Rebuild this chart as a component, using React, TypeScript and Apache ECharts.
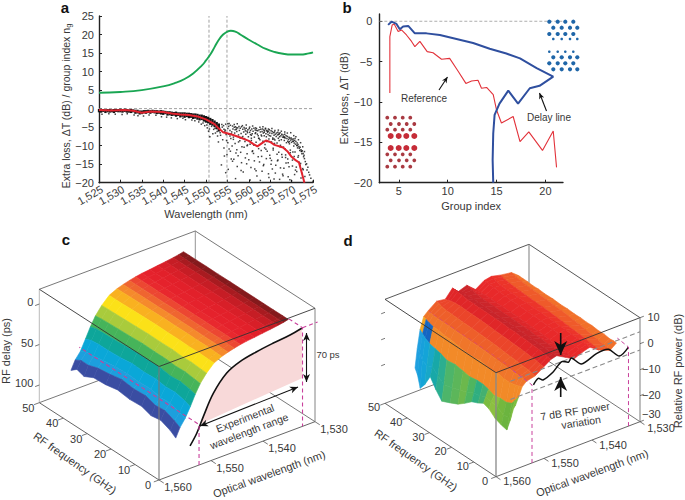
import React, { useEffect, useRef } from "react";
import * as echarts from "echarts";

// ---------- Panel a ----------
const groupWl = [1525,1530,1535,1540,1543,1545,1547,1549,1550,1551,1552,1553,1554,1555,1555.8,1557,1558,1560,1562,1564,1566,1568,1570,1572,1574,1575];
const groupIdx = [4.3,4.5,5,6,7,8,9.5,11.6,13,14.6,16.6,18.6,20,20.8,21,20.7,20,18.6,17.3,16.1,15.3,14.8,14.6,14.6,14.9,15.2];
const avgWl = [1525,1528,1531,1533,1535,1537,1540,1542,1544,1546,1548,1550,1552,1553,1554,1556,1558,1560,1561,1562,1563,1564,1565,1566,1568,1569,1570,1571,1571.7,1572.3,1573];
const avgLoss = [-0.4,-0.5,-0.4,-0.6,-1.1,-0.8,-0.9,-1.3,-1.6,-1.7,-2.1,-2.9,-4.2,-5.4,-6.4,-7,-7.8,-8.7,-9.5,-10.2,-9.4,-8.6,-9,-9.8,-10.5,-11.5,-13,-14,-14.5,-17,-20];
const bandWl = [1525,1525.5,1526,1526.5,1527,1527.5,1528,1528.5,1529,1529.5,1530,1530.5,1531,1531.5,1532,1532.5,1533,1533.5,1534,1534.5,1535,1535.5,1536,1536.5,1537,1537.5,1538,1538.5,1539,1539.5,1540,1540.5,1541,1541.5,1542,1542.5,1543,1543.5,1544,1544.5,1545,1545.5,1546,1546.5,1547,1547.5,1548,1548.5,1549,1549.5,1550,1550.5,1551,1551.5,1552,1552.5,1553];
const bandTop = [-0.1,-0.2,-0.1,-0.2,-0.1,-0.1,-0.2,-0.1,-0.1,-0.1,0,-0.1,0,-0.1,-0.2,-0.1,-0.2,-0.3,-0.3,-0.5,-0.5,-0.4,-0.4,-0.3,-0.4,-0.3,-0.4,-0.4,-0.5,-0.4,-0.5,-0.6,-0.7,-0.7,-0.8,-0.9,-0.8,-1,-1,-1,-1,-1.1,-1.1,-1.2,-1.3,-1.3,-1.4,-1.6,-1.6,-1.8,-2,-2.2,-2.5,-2.8,-3.2,-3.6,-4];
const bandBottom = [-1,-1.1,-0.9,-1.2,-1,-1.1,-1,-1.2,-0.9,-1,-1,-1.1,-0.9,-1.1,-1.1,-1.2,-1,-1.4,-1.3,-1.6,-1.5,-1.3,-1.4,-1.2,-1.4,-1.2,-1.3,-1.5,-1.4,-1.6,-1.7,-1.5,-1.9,-1.8,-2,-1.9,-2.2,-2,-2.4,-2.2,-2.5,-2.3,-2.6,-2.5,-2.8,-2.7,-3,-3.2,-3.1,-3.5,-3.8,-4,-4.4,-4.6,-5,-5.6,-6.2];
const strayWl = [
  1525.7,1527.3,1528.8,1530.4,1531.6,1533.2,1534.1,1535.4,1536.7,1538.3,1539.6,1540.8,1541.9,1543.3,1544.6,1545.2,1546.7,1547.4,1548.3,1548.9,1549.3,1549.7,1550.2,1550.3,1550.6,1550.8,1550.9,1551.3,1551.6,1551.8,
  1552.1,1552.2,1552.6,1552.7,1552.9,1553.1,1553.2,1553.3,1553.4,1553.7,1553.8,1553.9,1554.1,1554.2,1554.2,1554.4,1554.6,1554.7,1554.8,1554.9,1555.1,1555.1,1555.3,1555.3,1555.6,1555.7,1555.8,1555.9,1556,1556.2,
  1556.3,1556.4,1556.6,1556.7,1556.8,1556.9,1557.1,1557.2,1557.2,1557.4,1557.6,1557.7,1557.8,1557.9,1558,1558.2,1558.3,1558.4,1558.6,1558.6,1558.8,1558.9,1559.1,1559.1,1559.3,1559.4,1559.6,1559.6,1559.8,1559.9,
  1560.1,1560.2,1560.3,1560.4,1560.6,1560.7,1560.8,1560.9,1561,1561.2,1561.3,1561.3,1561.5,1561.6,1561.7,1561.8,1562,1562.1,1562.2,1562.3,1562.4,1562.6,1562.7,1562.8,1562.9,1563,1563.1,1563.2,1563.3,1563.4,
  1563.5,1563.6,1563.7,1563.8,1563.9,1564,1564.1,1564.2,1564.3,1564.4,1564.5,1564.6,1564.7,1564.8,1564.9,1565,1565.1,1565.2,1565.3,1565.4,1565.5,1565.6,1565.7,1565.8,1565.9,1566,1566.1,1566.2,1566.3,1566.4,
  1566.5,1566.6,1566.7,1566.8,1566.9,1567,1567.1,1567.2,1567.3,1567.4,1567.5,1567.6,1567.7,1567.8,1567.9,1568,1568.1,1568.2,1568.3,1568.4,1568.5,1568.6,1568.7,1568.8,1568.9,1569,1569.1,1569.2,1569.3,1569.4,
  1569.5,1569.6,1569.7,1569.8,1569.9,1570,1570.1,1570.2,1570.3,1570.4,1570.5,1570.6,1570.7,1570.8,1570.9,1571,1571.1,1571.2,1571.3,1571.4,1571.5,1571.6,1571.7,1571.8,1571.9,1572,1572.1,1572.2,1572.3,1572.4,
  1572.5,1572.6,1572.7,1572.8,1572.9,1573,1573.2,1573.3,1573.5,1573.6,1573.8,1574,1574.2,1574.5,1575,
  1553.6,1554.3,1555.2,1556.1,1556.5,1557.3,1558.1,1558.7,1559.2,1559.7,1560.5,1561.1,1561.9,1562.5,1563.1,1563.7,1564.1,1564.7,1565.2,1565.7,1566.2,1566.8,1567.2,1567.7,1568.2,1568.7,1569.2,1569.7,1570.2,1570.7,
  1554.6,1555.4,1556.2,1556.9,1557.5,1558.2,1558.9,1559.5,1560.3,1560.8,1561.4,1562.2,1562.7,1563.4,1564,1564.6,1565.3,1565.9,1566.6,1567.4,1568,1568.6,1569.4,1570,1570.6,1571.2,1571.8,1572.2,1572.7,1573.1,
  1555.1,1555.7,1556.4,1557,1557.6,1558.3,1559,1559.6,1560,1560.6,1561.2,1561.7,1562.3,1562.9,1563.5,1564.2,1564.9,1565.5,1566,1566.7,1567.3,1567.9,1568.5,1569.1,1569.6,1570.3,1570.9,1571.5,1572,1572.5,
  1555.4,1556.6,1557.3,1558.5,1559.4,1560.2,1560.9,1561.6,1562.6,1563.3,1563.9,1564.6,1565.4,1566.1,1566.9,1567.6,1568.4,1569,1569.8,1570.5,1571,1571.6,1572.1,1572.6,1573,
  1554.5,1555.9,1557.1,1558.4,1559.7,1560.6,1561.8,1563,1564.3,1565.6,1567,1568.3,1569.5,1570.8,1572.3,
  1555.6,1556.8,1558,1559.2,1560.4,1561.5,1562.4,1563.6,1564.8,1565.9,1567.1,1568.2,1569.3,1570.4,1571.3,
];
const strayLoss = [
  -1.5,-1.4,-1.5,-1.6,-1.4,-1.7,-1.9,-2,-1.7,-1.8,-2.2,-2.3,-2.5,-2.7,-2.6,-3,-3.1,-3.3,-3.6,-4.2,-3.9,-4.6,-4.4,-5.2,-6.1,-5.5,-7.6,-4.8,-6.8,-5.6,
  -5.3,-6.6,-6.2,-7.4,-9,-4.4,-5.3,-6.5,-7.2,-4.3,-5,-8.4,-4.6,-5.6,-10.6,-6.1,-4.2,-7,-8.6,-12.4,-4.1,-5.4,-4.8,-6.9,-5.9,-4.5,-8.1,-13.6,-6.3,-4.7,
  -5.5,-7.7,-5,-6.6,-9.4,-4.9,-5.6,-6.2,-11.1,-5.2,-7.1,-4.8,-5.9,-8.7,-5.3,-6.7,-4.9,-10.3,-5.6,-7.5,-6.3,-5.1,-5.5,-8.9,-6.9,-5.3,-6.1,-12.2,-5.7,-7.6,
  -5.4,-6.4,-9.6,-5.9,-7.2,-5.5,-6.8,-11.4,-6.1,-5.3,-7.7,-14.1,-5.8,-6.5,-9.1,-5.4,-6.9,-6,-7.3,-10.8,-5.7,-8.4,-6.3,-5.6,-7.1,-12.9,-6.2,-5.5,-8.8,-6.6,
  -5.8,-7.3,-6,-9.7,-5.5,-6.8,-7.6,-5.9,-11.5,-6.4,-7,-6.1,-8.2,-5.7,-6.6,-13.4,-7.4,-6,-9,-6.7,-6.2,-7.9,-10.7,-6.5,-7.2,-6.3,-8.5,-6.9,-15.3,-7.5,
  -6.6,-9.3,-7.1,-6.4,-8,-11.8,-6.8,-7.6,-6.5,-9.9,-7.3,-8.4,-6.9,-13.1,-7.7,-7.1,-10.4,-7.5,-8.6,-6.9,-7.9,-12.5,-7.3,-9.2,-8.1,-7.5,-8.8,-14.6,-8.3,-7.7,
  -9.5,-8,-11.2,-8.5,-7.9,-9.1,-8.3,-13.9,-8.8,-8.2,-10.1,-9.3,-8.6,-11.7,-9.6,-8.9,-15.8,-9.9,-9.3,-10.6,-9.7,-12.7,-10.2,-10.7,-11.3,-10.4,-14.8,-11.1,-11.6,-12.2,
  -11.4,-16.2,-12.1,-13,-12.6,-13.5,-14.3,-15.1,-14.9,-16.6,-15.8,-17.2,-17.9,-18.8,-19.6,
  -15.2,-12.8,-16.4,-10.1,-13.7,-15.6,-11.8,-17.1,-13.3,-9.8,-15.9,-12.1,-18.2,-14.4,-16.9,-10.6,-13.5,-18.6,-15,-11.2,-17.4,-13.9,-19.1,-12.4,-16.1,-14.7,-18.4,-11.9,-15.5,-17.8,
  -17.3,-10.9,-14.2,-18.9,-12.7,-16.7,-10.4,-14.9,-19.3,-11.6,-16.3,-13,-19.4,-15.4,-11,-17.6,-14,-19,-12.3,-16,-18.1,-13.2,-15.7,-19.5,-12.9,-17,-14.5,-18.7,-16.5,-18.3,
  -9.2,-11.5,-8.3,-12,-9,-14.6,-8.1,-10,-13.8,-8.6,-9.9,-16.8,-8,-11.3,-15.1,-8.9,-12.6,-16.3,-9.4,-14.1,-10.3,-17.7,-10.9,-13.6,-19.2,-11.7,-16.6,-13.1,-15.3,-17.5,
  -4,-4.3,-4.1,-4.6,-4.4,-5,-4.7,-5.2,-5,-4.9,-5.3,-5.5,-5.4,-5.9,-5.8,-6.1,-6.3,-6.6,-6.5,-7.3,-7.6,-8.4,-9.2,-10.3,-11.6,
  -5.8,-6.8,-5.2,-7.8,-6.5,-8,-5.9,-7.4,-6.1,-8.3,-7,-7.8,-8.9,-8.1,-11.5,
  -7.4,-5.7,-7.9,-6,-7,-6.7,-8.1,-6.4,-7.3,-8.2,-8.6,-7.7,-9.1,-8.8,-10,
];
const xTicksA = [1525,1530,1535,1540,1545,1550,1555,1560,1565,1570,1575];
const markerWl = [1550.7, 1554.9];

// ---------- Panel b ----------
const delayGroup = [3.9,4.25,4.76,5.1,5.44,5.96,6.64,7.83,9.2,10.9,12.6,14.3,16,17.4,19.1,20.8,19.4,18.4,17.2,16.2,15.3,14.8,14.66,14.6,14.66];
const delayLoss = [-0.45,-0.05,-0.33,-1,-0.66,-0.58,-1.5,-1.5,-1.7,-2.2,-2.7,-3.4,-4,-4.6,-5.8,-6.86,-8,-8.3,-10.2,-8.6,-10.2,-11.6,-13.9,-17.2,-20];
const refGroup = [4.08,4.08,4.32,4.52,4.93,5.27,5.78,6.3,6.64,7.15,7.9,8.5,9.37,10.2,11.07,11.86,12.44,13.1,13.46,13.98,14.66,15,15.5,16.7,17.4,18.3,19.7,20.8,21.14];
const refLoss = [-8.9,-1.9,-0.45,-0.33,-1.28,-1.07,-1.7,-2.5,-3.14,-2.5,-3.76,-3.9,-4.7,-4.6,-6.2,-7.7,-7.4,-7.3,-8.3,-8.2,-9.1,-11,-12.6,-11.8,-14.9,-13.7,-16,-13.6,-18.1];
const xTicksB = [5,10,15,20];
const yTicksB = [-20,-15,-10,-5,0];

// ---------- Panel c ----------
const wlC = [1554.15,1553.34,1552.35,1551.36,1550.4,1549.44,1548.24,1546.8,1545.3,1544.1,1542.9,1541.7,1540.5,1539,1537.5,1536,1534.5,1533.45,1532.5];
const freqC = [5.7,8,12,16,20,25,30,35,40,44,47,49.5];
const delayC = [
  [95,84,75,63,50,39,29,20,15.5,13,11,9.3,8,6.9,5.6,4.4,3,1.9,0.4],
  [90,80,72,60,48,38,28.5,19.8,15.3,12.8,10.9,9.3,7.9,6.9,5.6,4.4,3,1.9,0.4],
  [85,75,68,57,46,36.5,27.5,19.2,14.7,12.5,10.6,9.1,7.8,6.8,5.5,4.3,3,1.8,0.5],
  [87,76,69,58,47,37,28,19.5,14.8,12.6,10.6,9.2,7.9,6.7,5.5,4.3,2.9,1.8,0.5],
  [83,72,66,56,45,36,27,19,14.5,12.3,10.5,9.1,7.8,6.7,5.5,4.3,3,1.7,0.5],
  [84,73,67,57,45.5,36,27.3,19,14.6,12.4,10.6,9.1,7.9,6.8,5.5,4.4,3,1.8,0.4],
  [82,71,66,56,45,35.5,27,18.8,14.5,12.3,10.5,9,7.8,6.7,5.4,4.3,2.9,1.7,0.4],
  [85,74,67,58,46,36.5,27.6,19.2,14.7,12.5,10.7,9.2,7.9,6.8,5.5,4.4,3,1.8,0.5],
  [86,76,69,59,47,37,28,19.5,15,12.7,10.7,9.3,8,6.9,5.6,4.4,3,1.9,0.4],
  [92,80,71,59,47.5,37.5,28.4,19.8,15.1,12.8,10.9,9.3,8,6.9,5.6,4.5,3.1,1.9,0.4],
  [89,80,72,60,48,38,28.6,20,15.3,12.9,10.9,9.4,8.1,7,5.7,4.4,3,1.9,0.4],
  [95,84,76,63,50,39,29,20,15.5,13,11,9.3,8,6.9,5.6,4.4,3,1.9,0.4],
];
const fiberWlC = [1554.03,1552.74,1551.48,1549.56,1546.98,1544.43,1541.22,1538.01,1534.8,1532.55];
const fiberDelayC = [94,81.5,64,40,21,13,8.5,5.5,3.2,0.4];
const wlTicks = [1560,1550,1540,1530];
const freqTicks = [0,10,20,30,40,50];
const delayTicks = [0,50,100];

// ---------- Panel d ----------
const wlD = [1555.2,1554.75,1554.15,1553.4,1552.5,1550.7,1548.9,1547.4,1546.2,1544.4,1542.6,1540.8,1539.3,1537.5,1535.1,1533.75];
const freqD = [2.5,4,5.5,8,10.8,13.5,16,18.5,21.3,24.5,27.5,31,34.8,37.5,40,42.5,44.5,45.75,46.85];
const powerD = [
  [-8.7,-7.5,-5,-1.5,0,0.8,3,4.8,5.4,3.5,1.6,3,3.8,1.5,-0.4,1.5],
  [-14,-10,-7,-2,0.3,1,3.2,5,5.5,3.8,1.8,3.2,4,1.8,-0.2,1.6],
  [-18.5,-14,-9,-2.5,0.2,1.4,3.5,5.2,5.2,4,2.2,3.4,3.9,2,0.2,1.4],
  [-18,-14.5,-10,-3,0.4,1.5,3.7,5.6,5.4,4.3,2.4,3.6,4.2,2.4,0.6,1.8],
  [-17,-13,-10,-3,0.5,1.8,3.9,5.7,5.5,4.2,2.6,3.8,4.1,2.6,1,1.7],
  [-15,-12.5,-10.5,-2.5,0.6,2,4.1,6,5.6,4.5,2.8,4,4.4,2.8,1.4,2],
  [-14.2,-12,-9.5,-3,0.8,2.2,4.2,5.9,5.7,4.4,3,4.1,4.3,3,1.8,1.9],
  [-15.5,-13,-9,-2.5,0.9,2.4,4.4,6.2,5.8,4.7,3.1,4.3,4.6,3.2,2,2.1],
  [-16.6,-13.5,-9,-2,1,2.6,4.5,6.1,5.9,4.6,3.2,4.4,4.5,3.4,2.3,2],
  [-19,-15,-9.5,-2.5,1.1,2.8,4.6,6.4,5.8,4.8,3.3,4.5,4.7,3.6,2.6,2.2],
  [-21,-16,-9,-2.5,1.2,2.9,4.8,6.3,5.9,4.9,3.4,4.6,4.7,3.8,2.8,2.1],
  [-22.5,-17,-8.5,-2,1.3,3,4.9,6.5,6,4.8,3.5,4.7,4.8,3.9,3,2.3],
  [-24,-18,-9,-1.5,1.4,3.1,5,6.4,6,5,3.5,4.8,4.8,4,3.2,2.2],
  [-21,-16,-8,-1.5,1.5,3.2,5,6.6,6.1,4.9,3.6,4.9,4.9,4.2,3.3,2.4],
  [-17.5,-14,-7.5,-1,1.5,3.3,5.1,6.5,6,5,3.6,5,4.8,4.3,3.4,2.3],
  [-22,-15,-7,-1,1.6,3.4,5,6.9,5.8,5.3,3.5,5.2,4.9,4.5,3.7,2.5],
  [-24.5,-14,-6,-0.5,1.7,3.7,4.6,7,5.6,5.6,3.4,5.4,5.4,4.8,3.9,2.5],
  [-20,-12,-5,0,1.8,4.2,4.2,7.2,5.2,6,3.3,5.5,5.8,5,4.2,2.5],
  [-18,-11,-4,0.5,2,4.5,4,7.2,5,6.2,3.3,5.5,6,5.2,4.5,2.5],
];
const traceWlD = [1552.2,1551.2,1550.2,1548.1,1546.3,1544.9,1544.3,1542.2,1539,1536.6,1534.3,1532.4];
const tracePowerD = [-0.2,1.6,0.3,1.9,4.6,3.4,4.6,0.8,2.6,2.5,-1.7,0.4];
const powerTicks = [10,0,-10,-20,-30];

// ---------- Colours ----------
const bandsC = ["#3a4da2","#1d9fdd","#0aa7d8","#0ea69a","#46b45a","#a9cb3c","#fbe118","#f9b120","#f58a2c","#ef6530","#ec4732","#e8282e","#e5222c","#e2202a","#d81f28","#c61d25","#a81b20","#841a1c"];
const wallUpperD = ["#f28a28","#f0762a","#ee5f2a","#eb452a"];
const plateauD = ["#e02628","#c8242a","#cc252a","#de272a","#e8292a","#ea2c2a","#ec342a","#ef5a2a","#f1702a"];
const wallLowD = ["#7cbc3c","#6cb53e","#6bb43f","#74b83e","#8cc040","#7cbc40","#44b070","#2fae80","#4fb55f","#6cb84c","#5cb65a","#4db56a","#2cae90","#18a8a8","#18a8c8","#14a4d8","#18a0dc","#20a0e0","#28a4e0"];
const INK = "#383838";
const PINK = "#c9409c";
const FONT = '"Liberation Sans", Arial, sans-serif';

// ---------- Projections of the two boxes ----------
const projC = (w: number, f: number, delay: number): number[] => {
  const u = (1560 - w) / 30, v = f / 50, h = 0.871 - delay * 0.00715;
  return [159 + 156 * u - 119.7 * v, 480 - 58.3 * u - 77.3 * v - 113.3 * h];
};
const projD = (w: number, f: number, db: number): number[] => {
  const u = (1560 - w) / 30, v = f / 50, h = (db + 30) / 40;
  return [496 + 144 * u - 111 * v, 476.7 - 55 * u - 73.4 * v - 104 * h];
};

type Stroke = { pts: number[][]; stroke?: string; width?: number; dash?: number[]; fill?: string; smooth?: number; opacity?: number };

function strokes3d(items: Stroke[], proj: (a: number, b: number, c: number) => number[], z: number) {
  return {
    type: "custom", coordinateSystem: "none", silent: true, z, clip: false,
    data: items.map((_, i) => [i]),
    renderItem: (params: any) => {
      const it = items[params.dataIndex];
      const points = it.pts.map((p) => proj(p[0], p[1], p[2]));
      if (it.fill) return { type: "polygon", shape: { points }, style: { fill: it.fill, stroke: "none" } };
      return { type: "polyline", shape: { points, smooth: it.smooth || 0 }, style: { fill: "none", stroke: it.stroke || "#444", lineWidth: it.width || 0.8, lineDash: it.dash, opacity: it.opacity ?? 1 } };
    },
  };
}

function surface(wl: number[], fr: number[], grid: number[][], proj: (a: number, b: number, c: number) => number[], colour: (i: number, j: number) => string, z: number) {
  const cells: number[][] = [];
  for (let i = wl.length - 2; i >= 0; i--) for (let j = fr.length - 2; j >= 0; j--) cells.push([i, j]);
  return {
    type: "custom", coordinateSystem: "none", silent: true, z, clip: false,
    data: cells,
    renderItem: (params: any) => {
      const [i, j] = cells[params.dataIndex];
      const points = [
        proj(wl[i], fr[j], grid[j][i]), proj(wl[i + 1], fr[j], grid[j][i + 1]),
        proj(wl[i + 1], fr[j + 1], grid[j + 1][i + 1]), proj(wl[i], fr[j + 1], grid[j + 1][i]),
      ];
      const c = colour(i, j);
      return { type: "polygon", shape: { points }, style: { fill: c, stroke: c, lineWidth: 0.6 } };
    },
  };
}

function txt(x: number, y: number, text: string, size = 11, deg = 0, extra: any = {}) {
  return {
    type: "text", x, y, rotation: (deg * Math.PI) / 180, silent: true,
    style: { text, font: `${extra.weight || "normal"} ${size}px ${FONT}`, fill: extra.fill || INK, align: extra.align || "center", verticalAlign: "middle" },
  };
}
function head(x: number, y: number, dx: number, dy: number, len: number, half: number) {
  const l = Math.hypot(dx, dy), ax = dx / l, ay = dy / l;
  const bx = x - ax * len, by = y - ay * len, nx = -ay * half, ny = ax * half;
  const mx = x - ax * len * 0.72, my = y - ay * len * 0.72;
  return { type: "polygon", silent: true, shape: { points: [[x, y], [bx + nx, by + ny], [mx, my], [bx - nx, by - ny]] }, style: { fill: "#111" } };
}
function arrow(x1: number, y1: number, x2: number, y2: number, both = false, len = 7, half = 3, width = 1.1) {
  const out: any[] = [
    { type: "line", silent: true, shape: { x1, y1, x2, y2 }, style: { stroke: "#111", lineWidth: width } },
    head(x2, y2, x2 - x1, y2 - y1, len, half),
  ];
  if (both) out.push(head(x1, y1, x1 - x2, y1 - y2, len, half));
  return out;
}
function dotRows(rows: { y: number; xs: number[]; r: number; c: string }[]) {
  const out: any[] = [];
  rows.forEach((row) => row.xs.forEach((x) => out.push({ type: "circle", silent: true, shape: { cx: x, cy: row.y, r: row.r }, style: { fill: row.c } })));
  return out;
}

const axisBase = {
  axisLine: { show: true, onZero: false, lineStyle: { color: "#222", width: 1.4 } },
  axisTick: { show: true, inside: true, length: 3, lineStyle: { color: "#222", width: 1 } },
  splitLine: { show: false },
};
const minus = (v: number) => String(v).replace("-", "\u2212");
const thousands = (v: number) => `${Math.floor(v / 1000)},${String(v % 1000).padStart(3, "0")}`;

export default function App() {
  const ref = useRef<HTMLDivElement>(null);
  useEffect(() => {
    document.body.style.margin = "0";
    const chart = echarts.init(ref.current!, undefined, { renderer: "svg" });

    // box c
    const W0 = 1560, W1 = 1530, ZTC = -18.2, ZBC = 121.8;
    const fiberC = fiberWlC.map((w, i) => [w, 0, fiberDelayC[i]]);
    const backC: Stroke[] = [
      { pts: [[W0, 50, ZTC], [W1, 50, ZTC], [W1, 0, ZTC]], stroke: "#555" },
      { pts: [[W0, 50, ZBC], [W1, 50, ZBC], [W1, 0, ZBC]], stroke: "#555" },
      { pts: [[W1, 50, ZTC], [W1, 50, ZBC]], stroke: "#777" },
      { pts: [[W0, 50, ZTC], [W0, 50, ZBC]], stroke: "#bbb", width: 1 },
    ];
    const midC: Stroke[] = [
      { pts: [...fiberC.slice(1), [1532.4, 0, 62], [1552.3, 0, 71.8]], fill: "#f8d9d9" },
    ];
    const frontC: Stroke[] = [
      { pts: [[W0, 50, ZTC], [W0, 0, ZTC], [W1, 0, ZTC]], stroke: "#333", width: 0.9 },
      { pts: [[W0, 50, ZBC], [W0, 0, ZBC], [W1, 0, ZBC]], stroke: "#555", width: 0.9 },
      { pts: [[W0, 0, ZTC], [W0, 0, ZBC]], stroke: "#777", width: 1.1 },
      { pts: [[W1, 0, ZTC], [W1, 0, ZBC]], stroke: "#777", width: 0.9 },
      { pts: fiberC, stroke: "#111", width: 1.6, smooth: 0.35 },
      { pts: [[1552.3, 0, 121.8], [1552.3, 0, 71.8], [1552.3, 50, 71.8]], stroke: PINK, width: 1.1, dash: [4, 3] },
      { pts: [[1532.4, 5.7, 0], [1532.4, 0, 0], [1532.4, 0, 121.8]], stroke: PINK, width: 1.1, dash: [4, 3] },
      { pts: [[1532.4, 0, 0], [1529.5, 0, 0]], stroke: PINK, width: 1.1, dash: [4, 3] },
      ...wlTicks.map((w) => ({ pts: [[w, 0, ZBC], [w, -2, ZBC]], stroke: "#555" })),
      ...freqTicks.map((f) => ({ pts: [[W0, f, ZBC], [W0 + 1, f, ZBC]], stroke: "#555" })),
      ...delayTicks.map((d) => ({ pts: [[W0, 50, d], [W0 + 0.8, 50, d]], stroke: "#555" })),
    ];

    // box d
    const ZTD = 10, ZBD = -30;
    const backD: Stroke[] = [
      { pts: [[W0, 50, ZTD], [W1, 50, ZTD], [W1, 0, ZTD]], stroke: "#444", width: 0.9 },
      { pts: [[W0, 50, ZBD], [W1, 50, ZBD], [W1, 0, ZBD]], stroke: "#555" },
      { pts: [[W1, 50, ZTD], [W1, 50, ZBD]], stroke: "#888", width: 1.1 },
    ];
    const frontD: Stroke[] = [
      { pts: [[W0, 50, ZTD], [W0, 0, ZTD], [W1, 0, ZTD]], stroke: "#333", width: 0.9 },
      { pts: [[W0, 50, ZBD], [W0, 0, ZBD], [W1, 0, ZBD]], stroke: "#555", width: 0.9 },
      { pts: [[W0, 0, ZTD], [W0, 0, ZBD]], stroke: "#888", width: 1.3 },
      { pts: [[W1, 0, ZTD], [W1, 0, ZBD]], stroke: "#888", width: 1.1 },
      { pts: [[1557, 0, 4.6], [W1, 0, 4.6]], stroke: "#8a8a8a", width: 1.1, dash: [5, 3] },
      { pts: [[1557, 0, -2.4], [W1, 0, -2.4]], stroke: "#8a8a8a", width: 1.1, dash: [5, 3] },
      { pts: traceWlD.map((w, i) => [w, 0, tracePowerD[i]]), stroke: "#111", width: 1.5, smooth: 0.3 },
      { pts: [[1552.5, 0, -30], [1552.5, 0, 0], [1552.5, 9, 0.8]], stroke: PINK, width: 1, dash: [4, 3] },
      { pts: [[1552.5, 9, 1.5], [1552.5, 46.5, 2]], stroke: PINK, width: 0.8, dash: [4, 3], opacity: 0.55 },
      { pts: [[1532.4, 0, -30], [1532.4, 0, 0.4], [1532.4, 5, 1]], stroke: PINK, width: 1, dash: [4, 3] },
      ...wlTicks.map((w) => ({ pts: [[w, 0, ZBD], [w, -2, ZBD]], stroke: "#555" })),
      ...freqTicks.map((f) => ({ pts: [[W0, f, ZBD], [W0 + 1, f, ZBD]], stroke: "#555" })),
      ...powerTicks.map((p) => ({ pts: [[W1, 0, p], [W1 - 0.8, 0, p]], stroke: "#555" })),
      ...[5, -5, -15].map((p) => ({ pts: [[W0, 50, p], [W0 + 0.8, 50, p]], stroke: "#555" })),
    ];

    const colourD = (i: number, j: number) => {
      if (i <= 1) return wallLowD[j];
      if (i === 2 && (j === 15 || j === 16)) return "#1566c2";
      if (i === 2 && j >= 17) return "#f5a623";
      if (i <= 5) return wallUpperD[i - 2];
      return plateauD[Math.min(i - 6, plateauD.length - 1)];
    };

    const labelsC: any[] = [
      ...freqTicks.map((f) => { const p = projC(W0, f, ZBC); return txt(p[0] - 11, p[1] + 5, String(f)); }),
      ...wlTicks.map((w) => { const p = projC(w, 0, ZBC); return txt(p[0] + 19, p[1] + 7, thousands(w)); }),
      ...delayTicks.map((d) => { const p = projC(W0, 50, d); return txt(p[0] - 6, p[1] - 2, String(d), 11, 0, { align: "right" }); }),
      txt(6, 351, "RF delay (ps)", 11, 90),
      txt(75, 463, "RF frequency (GHz)", 11, -35),
      txt(269, 474, "Optical wavelength (nm)", 11, 20),
      txt(245, 418, "Experimental", 10.5, 21),
      txt(249, 431, "wavelength range", 10.5, 21),
      txt(328, 354, "70 ps", 9.5),
      ...arrow(306.5, 333, 306.5, 382, true, 8, 3.5),
      ...arrow(200, 426, 298, 387, true, 8, 3.5),
    ];
    const labelsD: any[] = [
      ...freqTicks.map((f) => { const p = projD(W0, f, ZBD); return txt(p[0] - 11, p[1] + 4, String(f)); }),
      ...wlTicks.map((w) => { const p = projD(w, 0, ZBD); return txt(p[0] + 21, p[1] + (w === 1530 ? 6 : 4.5), thousands(w)); }),
      ...powerTicks.map((v) => { const p = projD(W1, 0, v); return txt(v < 0 ? 642 : 647.5, p[1] - (v === -30 ? 7.5 : 1), minus(v), 11, 0, { align: "left" }); }),
      txt(678, 371, "Relative RF power (dB)", 11, 90),
      txt(416, 460, "RF frequency (GHz)", 11, -35),
      txt(592, 473, "Optical wavelength (nm)", 11, 20),
      txt(575, 411, "7 dB RF power", 10.5, 9),
      txt(581, 422, "variation", 10.5, 9),
      ...arrow(560.7, 333, 560.7, 355, false, 14, 6.5, 1.6),
      ...arrow(560.7, 397, 560.7, 377, false, 14, 6.5, 1.6),
    ];
    const dotsRed = [
      { y: 117.7, xs: [387.3, 395, 402.7, 410.3], r: 1.9, c: "#a93a42" },
      { y: 124, xs: [390.7, 399, 406.7, 414.3], r: 1.9, c: "#a93a42" },
      { y: 129.7, xs: [387.3, 395, 402.7, 410.3], r: 1.9, c: "#a93a42" },
      { y: 136, xs: [390.7, 398.7, 406.3, 414.3], r: 3, c: "#c62c38" },
      { y: 148, xs: [390.7, 398.7, 406.3, 414.3], r: 3, c: "#c62c38" },
      { y: 154.3, xs: [387.3, 395, 402.7, 410.3], r: 1.9, c: "#a93a42" },
      { y: 160.3, xs: [390.7, 399, 406.7, 414.3], r: 1.9, c: "#a93a42" },
      { y: 166.7, xs: [387.3, 395, 402.7, 410.3], r: 1.9, c: "#a93a42" },
    ];
    const dotsBlue = [
      { y: 21.7, xs: [549.3, 557.7, 565.3, 573.3], r: 2.1, c: "#1f66a8" },
      { y: 27.7, xs: [553.3, 561.7, 570, 577.3], r: 2.1, c: "#1f66a8" },
      { y: 34, xs: [549.3, 557.7, 565.3, 573.3], r: 2.1, c: "#1f66a8" },
      { y: 39, xs: [553.3, 561.7, 570, 577.3], r: 1.3, c: "#1f66a8" },
      { y: 51.7, xs: [549.3, 557.7, 565.3, 573.3], r: 1.3, c: "#1f66a8" },
      { y: 57.3, xs: [553.3, 561.7, 570, 577.3], r: 2.1, c: "#1f66a8" },
      { y: 63.3, xs: [549.3, 557.7, 565.3, 573.3], r: 2.1, c: "#1f66a8" },
      { y: 69.3, xs: [553.3, 561.7, 570, 577.3], r: 2.1, c: "#1f66a8" },
    ];

    const overlay: any[] = [
      txt(65, 7, "a", 15, 0, { weight: "bold", fill: "#111" }),
      txt(347, 7, "b", 15, 0, { weight: "bold", fill: "#111" }),
      txt(66, 239, "c", 15, 0, { weight: "bold", fill: "#111" }),
      txt(348, 240, "d", 15, 0, { weight: "bold", fill: "#111" }),
      {
        type: "text", x: 66, y: 106, rotation: Math.PI / 2, silent: true,
        style: {
          text: "{m|Extra loss, \u0394T (dB) / group index n}{s|g}", align: "center", verticalAlign: "middle",
          rich: { m: { fontSize: 10.5, fontFamily: FONT, fill: INK }, s: { fontSize: 7.5, fontFamily: FONT, fill: INK, verticalAlign: "bottom", padding: [4, 0, 0, 0] } },
        },
      },
      txt(424, 98, "Reference", 10),
      txt(549, 117, "Delay line", 10),
      ...arrow(439, 90, 447.5, 77, false, 6, 2.7),
      ...arrow(546.5, 111, 539.5, 93, false, 6, 2.7),
      ...dotRows(dotsRed),
      ...dotRows(dotsBlue),
      ...labelsC,
      ...labelsD,
    ];

    chart.setOption({
      animation: false,
      backgroundColor: "#fff",
      textStyle: { fontFamily: FONT, color: INK },
      grid: [
        { left: 99, top: 16, width: 214, height: 166.7 },
        { left: 379.3, top: 14, width: 183.7, height: 168.7 },
      ],
      xAxis: [
        {
          ...axisBase, gridIndex: 0, type: "value", min: 1525, max: 1575, interval: 5,
          axisLabel: { show: false },
          name: "Wavelength (nm)", nameLocation: "middle", nameGap: 26, nameTextStyle: { fontSize: 11, color: INK, fontFamily: FONT },
        },
        {
          ...axisBase, gridIndex: 1, type: "value", min: 3, max: 21.8,
          axisTick: { ...axisBase.axisTick, customValues: xTicksB },
          axisLabel: { fontSize: 11, color: INK, margin: 3, fontFamily: FONT, customValues: xTicksB },
          name: "Group index", nameLocation: "middle", nameGap: 18, nameTextStyle: { fontSize: 11, color: INK, fontFamily: FONT },
        },
      ],
      yAxis: [
        {
          ...axisBase, gridIndex: 0, type: "value", min: -20, max: 25, interval: 5,
          axisLabel: { fontSize: 11, color: INK, margin: 5, fontFamily: FONT, formatter: (v: number) => minus(v) },
        },
        {
          ...axisBase, gridIndex: 1, type: "value", min: -20, max: 0.9,
          axisTick: { ...axisBase.axisTick, customValues: yTicksB },
          axisLabel: { fontSize: 11, color: INK, margin: 7, fontFamily: FONT, formatter: (v: number) => minus(v), customValues: yTicksB },
          name: "Extra loss, \u0394T (dB)", nameLocation: "middle", nameGap: 25, nameTextStyle: { fontSize: 11, color: INK, fontFamily: FONT },
        },
      ],
      series: [
        // panel a
        { type: "line", xAxisIndex: 0, yAxisIndex: 0, data: [[1525, 0], [1575, 0]], symbol: "none", z: 1, lineStyle: { color: "#888", width: 0.8, type: [3, 2] } },
        ...markerWl.map((w) => ({ type: "line", xAxisIndex: 0, yAxisIndex: 0, data: [[w, -20], [w, 25]], symbol: "none", z: 1, lineStyle: { color: "#888", width: 0.8, type: [3, 2] } })),
        {
          type: "custom", xAxisIndex: 0, yAxisIndex: 0, z: 3, silent: true, clip: false,
          data: xTicksA.map((w) => [w, -20]),
          renderItem: (_: any, api: any) => {
            const a = api.coord([api.value(0), api.value(1)]);
            return {
              type: "text", x: a[0] + 3, y: a[1] + 5.5, rotation: Math.PI / 6,
              style: { text: thousands(api.value(0)), font: `11px ${FONT}`, fill: INK, align: "right", verticalAlign: "middle" },
            };
          },
        },
        { type: "scatter", xAxisIndex: 0, yAxisIndex: 0, data: strayWl.map((w, i) => [w, strayLoss[i]]), symbol: "rect", symbolSize: 1.5, z: 2, itemStyle: { color: "#111" }, clip: true },
        {
          type: "custom", xAxisIndex: 0, yAxisIndex: 0, z: 2, silent: true,
          data: bandWl.map((w, i) => [w, bandTop[i], bandBottom[i]]),
          encode: { x: 0, y: [1, 2] },
          renderItem: (_: any, api: any) => {
            const a = api.coord([api.value(0), api.value(1)]), b = api.coord([api.value(0), api.value(2)]);
            return { type: "line", shape: { x1: a[0], y1: a[1], x2: b[0], y2: b[1] }, style: { stroke: "#151515", lineWidth: 2.3 } };
          },
        },
        { type: "line", xAxisIndex: 0, yAxisIndex: 0, data: avgWl.map((w, i) => [w, avgLoss[i]]), symbol: "none", z: 3, lineStyle: { color: "#e2232e", width: 2 } },
        { type: "line", xAxisIndex: 0, yAxisIndex: 0, data: groupWl.map((w, i) => [w, groupIdx[i]]), smooth: 0.5, symbol: "none", z: 3, lineStyle: { color: "#1aa653", width: 1.9 } },
        // panel b
        { type: "line", xAxisIndex: 1, yAxisIndex: 1, data: [[3, 0], [21.8, 0]], symbol: "none", z: 1, lineStyle: { color: "#999", width: 0.8, type: [3, 2] } },
        { type: "line", xAxisIndex: 1, yAxisIndex: 1, data: refGroup.map((g, i) => [g, refLoss[i]]), symbol: "none", z: 3, lineStyle: { color: "#e2323a", width: 1.1 } },
        { type: "line", xAxisIndex: 1, yAxisIndex: 1, data: delayGroup.map((g, i) => [g, delayLoss[i]]), symbol: "none", z: 4, lineStyle: { color: "#2f4f9f", width: 2 } },
        // panel c
        strokes3d(backC, projC, 5),
        strokes3d(midC, projC, 6),
        surface(wlC, freqC, delayC, projC, (i) => bandsC[i], 7),
        strokes3d(frontC, projC, 8),
        // panel d
        strokes3d(backD, projD, 5),
        surface(wlD, freqD, powerD, projD, colourD, 7),
        strokes3d(frontD, projD, 8),
      ],
      graphic: { elements: overlay.map((e) => ({ z: 100, ...e })) },
    });
    return () => chart.dispose();
  }, []);
  return <div ref={ref} style={{ width: 685, height: 500 }} />;
}
